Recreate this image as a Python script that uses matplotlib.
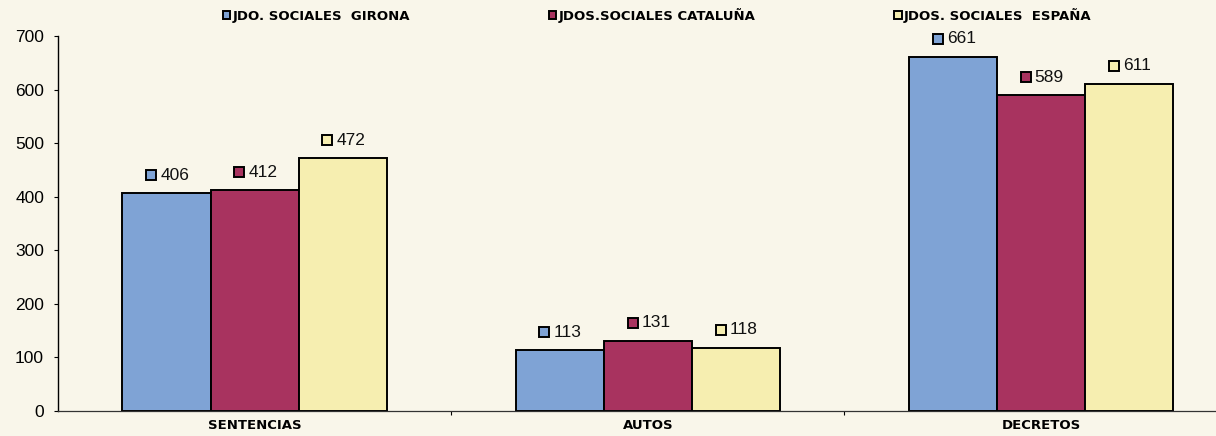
import matplotlib.pyplot as plt
import numpy as np
from matplotlib.transforms import offset_copy

categories = ["SENTENCIAS", "AUTOS", "DECRETOS"]
series_names = ["JDO. SOCIALES  GIRONA", "JDOS.SOCIALES CATALUÑA", "JDOS. SOCIALES  ESPAÑA"]
girona = [406, 113, 661]
cataluna = [412, 131, 589]
espana = [472, 118, 611]
yticks = [0, 100, 200, 300, 400, 500, 600, 700]

colors = ["#7fa3d5", "#a8335f", "#f6eeb0"]
bg = "#f9f6ea"

fig = plt.figure(figsize=(12.16, 4.36), dpi=100, facecolor=bg)
ax = fig.add_axes([58 / 1216, 25 / 436, 1 - 58 / 1216, 375 / 436])
ax.set_facecolor(bg)

x = np.arange(len(categories))
w = 0.224
bars = []
for i, (vals, c, name) in enumerate(zip([girona, cataluna, espana], colors, series_names)):
    xs = x + (i - 1) * w
    b = ax.bar(xs, vals, width=w, color=c, edgecolor="black", linewidth=1.4, label=name, zorder=2)
    bars.append(b)
    # value labels: small square + number
    sq = offset_copy(ax.transData, fig=fig, x=-11, y=13, units="points")
    tx = offset_copy(ax.transData, fig=fig, x=-4.5, y=13, units="points")
    for xi, v in zip(xs, vals):
        ax.plot(xi, v, marker="s", ms=6.5, mfc=c, mec="black", mew=1.4,
                transform=sq, clip_on=False, zorder=3)
        ax.text(xi, v, str(v), transform=tx, ha="left", va="center",
                fontsize=12.5, family="Liberation Sans", color="#111111")

ax.set_xlim(-0.5, 2.445)
ax.set_ylim(0, 700)
ax.set_yticks(yticks)
ax.tick_params(axis="y", labelsize=12.5, length=3, width=0.8, pad=7)
for lab in ax.get_yticklabels():
    lab.set_family("Liberation Sans")

ax.set_xticks(x)
ax.set_xticklabels(categories, fontsize=9.5, fontweight="bold")
ax.tick_params(axis="x", length=0, pad=6)
ax.set_xticks([0.5, 1.5], minor=True)
ax.tick_params(axis="x", which="minor", length=3, width=0.8)

for s in ["top", "right"]:
    ax.spines[s].set_visible(False)
ax.spines["left"].set_linewidth(1.0)
ax.spines["bottom"].set_linewidth(0.9)
ax.spines["bottom"].set_color("#333333")

leg = fig.legend(handles=bars, loc="upper left", bbox_to_anchor=(223 / 1216, 1 - 8 / 436),
                 ncol=3, frameon=False, prop={"weight": "bold", "size": 9.5},
                 handlelength=0.55, handleheight=0.55, handletextpad=0.2,
                 columnspacing=10.5, borderpad=0, borderaxespad=0)

fig.savefig("out.png", dpi=100, facecolor=bg)
